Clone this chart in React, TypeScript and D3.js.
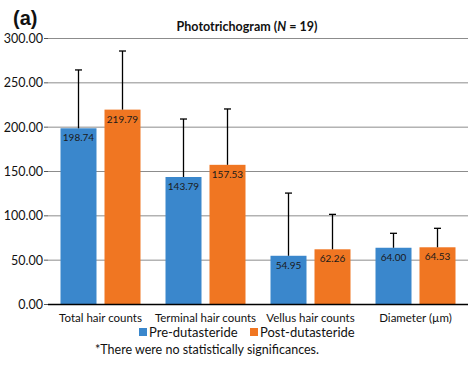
import React from "react";
import * as d3 from "d3";

const categories = ["Total hair counts", "Terminal hair counts", "Vellus hair counts", "Diameter (\u00b5m)"];
const series = ["Pre-dutasteride", "Post-dutasteride"];
const preValues = [198.74, 143.79, 54.95, 64.0];
const postValues = [219.79, 157.53, 62.26, 64.53];
const preErr = [65.8, 65.4, 70.7, 16.3];
const postErr = [66.1, 63.0, 39.4, 21.4];
const yTicks = [0, 50, 100, 150, 200, 250, 300];
const colors = ["#3A87CC", "#F07622"];

const W = 474, H = 366;
const font = "Lato, 'Open Sans', 'Liberation Sans', sans-serif";

export default function App() {
  const x0 = d3.scaleBand().domain(categories).range([48, 468]);
  const y = d3.scaleLinear().domain([0, 300]).range([304.5, 38.5]);
  const data = [preValues, postValues];
  const errs = [preErr, postErr];
  const barW = 36, gap = 8;
  return (
    <svg width={W} height={H} style={{ position: "absolute", left: 0, top: 0, background: "#fff" }} fontFamily={font}>
      <text x={13} y={25} fontSize={20} fontWeight="bold" fill="#111" fontFamily="'Liberation Sans', Arial, sans-serif">(a)</text>
      <text x={247} y={31} fontSize={12.5} fontWeight="bold" textAnchor="middle" fill="#111">
        Phototrichogram (<tspan fontStyle="italic">N</tspan> = 19)
      </text>
      {yTicks.map((t) => (
        <g key={t}>
          {t > 0 && <line x1={48} x2={468} y1={y(t)} y2={y(t)} stroke="#8c8c8c" strokeWidth={1} />}
          <line x1={44} x2={48} y1={y(t)} y2={y(t)} stroke="#555" strokeWidth={1} />
          <text x={43} y={y(t) + 4.5} fontSize={12.5} textAnchor="end" fill="#111">{t.toFixed(2)}</text>
        </g>
      ))}
      {categories.map((c, i) => {
        const cx = (x0(c) as number) + x0.bandwidth() / 2;
        return (
          <g key={c}>
            {data.map((vals, s) => {
              const bx = s === 0 ? cx - gap / 2 - barW : cx + gap / 2;
              const v = vals[i];
              const top = y(v);
              const ey = y(v + errs[s][i]);
              const mid = bx + barW / 2;
              return (
                <g key={s}>
                  <rect x={bx} y={top} width={barW} height={y(0) - top} fill={colors[s]} />
                  <line x1={mid} x2={mid} y1={top} y2={ey} stroke="#000" strokeWidth={1.3} />
                  <line x1={mid - 3.5} x2={mid + 3.5} y1={ey} y2={ey} stroke="#000" strokeWidth={1.3} />
                  <text x={mid} y={top + 13} fontSize={10} textAnchor="middle" fill="#1a1a1a">{v.toFixed(2)}</text>
                </g>
              );
            })}
            <text x={cx} y={322} fontSize={11.5} textAnchor="middle" fill="#111">{c}</text>
          </g>
        );
      })}
      <line x1={48} x2={468} y1={y(0)} y2={y(0)} stroke="#000" strokeWidth={1.3} />
      {series.map((s, i) => {
        const lx = i === 0 ? 139 : 250;
        return (
          <g key={s}>
            <rect x={lx} y={328} width={8} height={8} fill={colors[i]} />
            <text x={lx + 10} y={337} fontSize={13} fill="#111">{s}</text>
          </g>
        );
      })}
      <text x={95} y={354} fontSize={12.5} fill="#111">*There were no statistically significances.</text>
    </svg>
  );
}
